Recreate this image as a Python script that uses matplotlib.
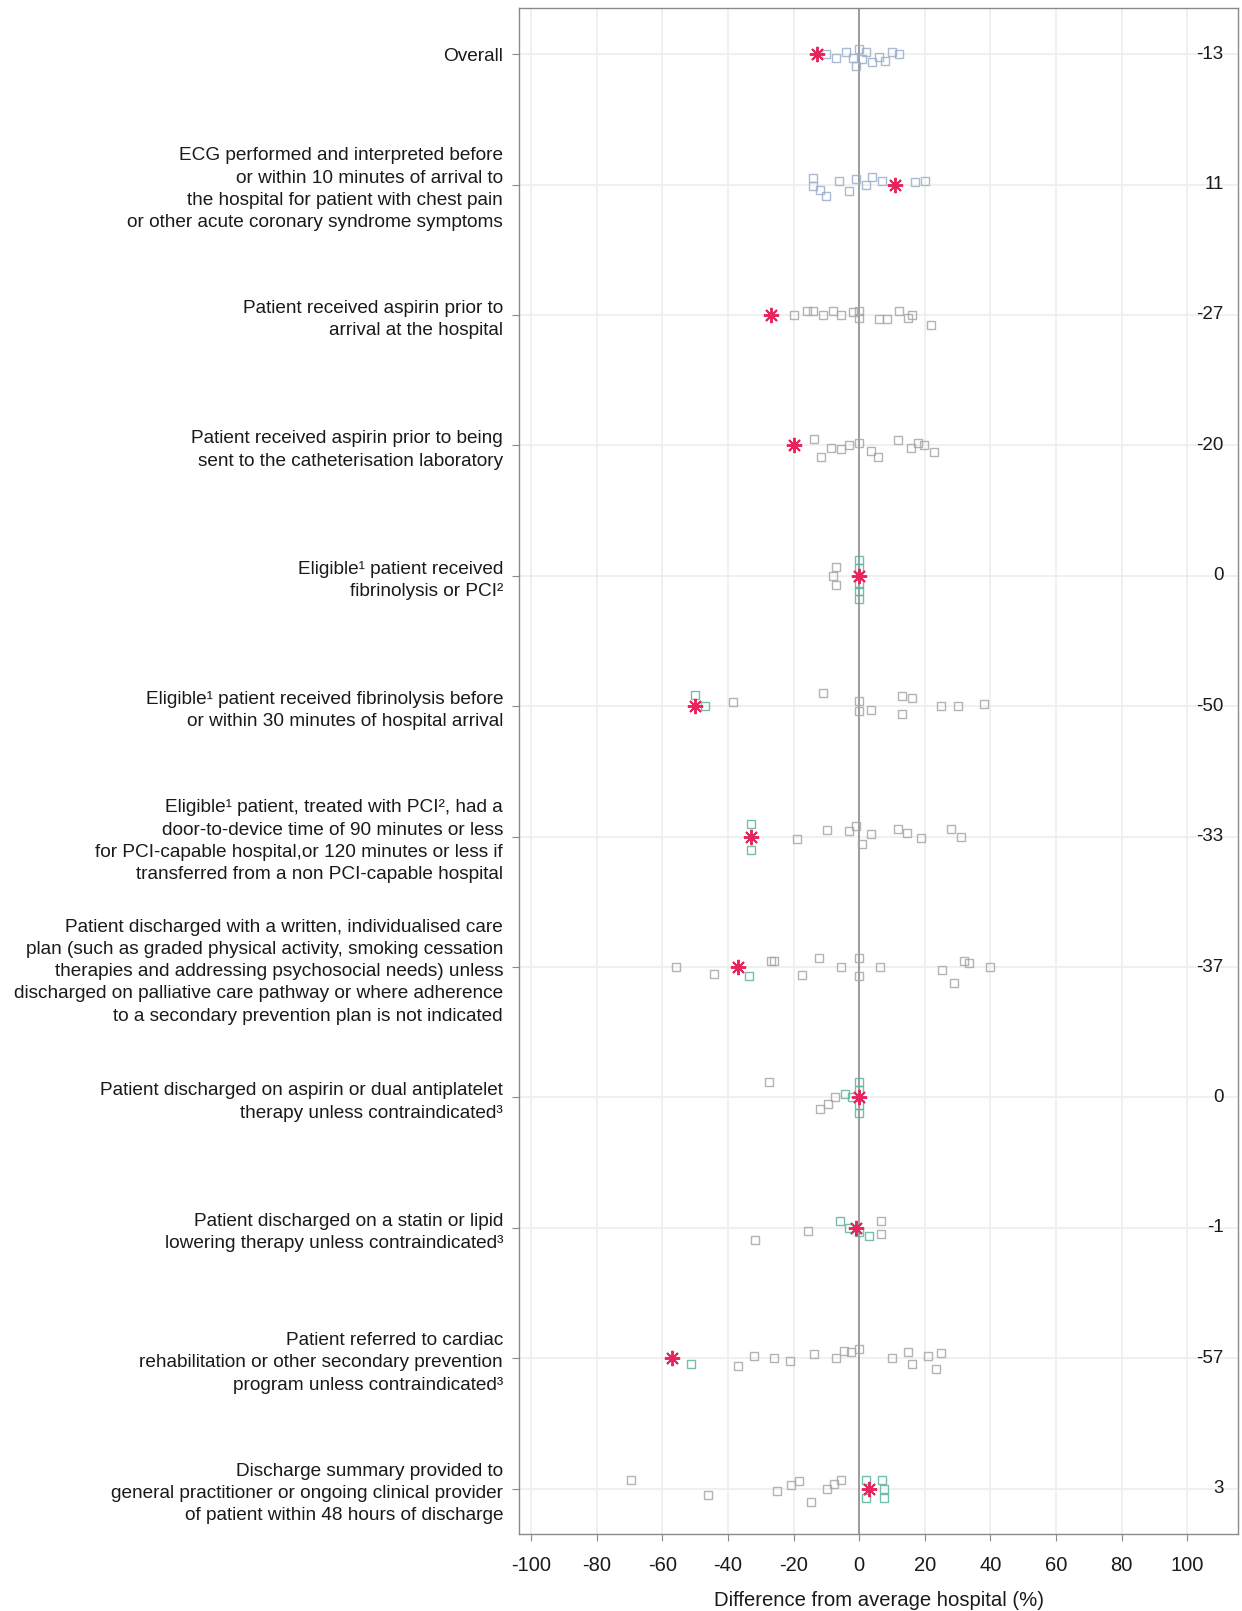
import numpy as np
import matplotlib
matplotlib.use("Agg")
from matplotlib import pyplot as plt

plt.rcParams['font.family'] = ['Liberation Sans', 'DejaVu Sans']

labels = [
    "Overall",
    "ECG performed and interpreted before\nor within 10 minutes of arrival to\nthe hospital for patient with chest pain\nor other acute coronary syndrome symptoms",
    "Patient received aspirin prior to\narrival at the hospital",
    "Patient received aspirin prior to being\nsent to the catheterisation laboratory",
    "Eligible\u00b9 patient received\nfibrinolysis or PCI\u00b2",
    "Eligible\u00b9 patient received fibrinolysis before\nor within 30 minutes of hospital arrival",
    "Eligible\u00b9 patient, treated with PCI\u00b2, had a\ndoor-to-device time of 90 minutes or less\nfor PCI-capable hospital,or 120 minutes or less if\ntransferred from a non PCI-capable hospital",
    "Patient discharged with a written, individualised care\nplan (such as graded physical activity, smoking cessation\ntherapies and addressing psychosocial needs) unless\ndischarged on palliative care pathway or where adherence\nto a secondary prevention plan is not indicated",
    "Patient discharged on aspirin or dual antiplatelet\ntherapy unless contraindicated\u00b3",
    "Patient discharged on a statin or lipid\nlowering therapy unless contraindicated\u00b3",
    "Patient referred to cardiac\nrehabilitation or other secondary prevention\nprogram unless contraindicated\u00b3",
    "Discharge summary provided to\ngeneral practitioner or ongoing clinical provider\nof patient within 48 hours of discharge",
]

# this hospital's difference from the average hospital (%)
hospital = [-13, 11, -27, -20, 0, -50, -33, -37, 0, -1, -57, 3]

# other hospitals, one list per indicator
others = [
    [-10, -7, -4, -2, -1, 0, 1, 2, 4, 6, 8, 10, 12],
    [-14, -14, -12, -10, -6, -3, -1, 2, 4, 7, 17, 20],
    [-20, -16, -14, -11, -8, -5.6, -2, 0, 0, 6, 8.6, 12, 15, 16, 22],
    [-13.7, -11.7, -8.6, -5.6, -3, 0, 3.5, 5.6, 11.7, 15.8, 18, 19.8, 22.9],
    [-8, -7, -7, 0, 0, 0, 0, 0],
    [-50, -47, -38.5, -11, 0, 0, 3.7, 13, 13, 16, 25, 30, 38],
    [-33, -33, -19, -9.7, -3, -1, 1, 3.6, 11.7, 14.7, 18.8, 28, 31],
    [-55.9, -44.2, -33.5, -26.9, -26, -17.3, -12.2, -5.6, 0, 0, 6.5, 25.4, 29, 32, 33.5, 40],
    [-27.4, -11.9, -9.6, -7.4, -4.4, -2.2, 0, 0, 0, 0],
    [-31.9, -15.6, -5.9, -3, 0, 3, 6.7, 6.7],
    [-51.3, -37, -32, -26, -21, -13.7, -7, -4.6, -2.5, 0, 10, 15, 16, 21, 23.4, 25],
    [-69.6, -46, -25, -20.8, -18.3, -14.7, -9.7, -7.6, -5.6, 2, 2, 7, 7.6, 7.6],
]
# vertical spread of the markers within a row (row units)
shift = [
    [0, 0.03, -0.02, 0.03, 0.09, -0.04, 0.04, -0.02, 0.06, 0.02, 0.05, -0.02, 0],
    [-0.05, 0.01, 0.04, 0.09, -0.03, 0.05, -0.04, 0.0, -0.06, -0.03, -0.02, -0.03],
    [0, -0.03, -0.03, 0, -0.03, 0, -0.02, -0.03, 0.02, 0.03, 0.03, -0.03, 0.02, 0.0, 0.08],
    [-0.05, 0.09, 0.02, 0.03, 0, -0.02, 0.04, 0.09, -0.04, 0.02, -0.02, 0.0, 0.05],
    [0.0, -0.07, 0.07, -0.12, -0.06, 0.06, 0.12, 0.18],
    [-0.09, 0.0, -0.03, -0.1, -0.04, 0.04, 0.03, -0.08, 0.06, -0.06, 0.0, 0.0, -0.02],
    [-0.1, 0.1, 0.02, -0.05, -0.04, -0.08, 0.06, -0.02, -0.06, -0.03, 0.01, -0.06, 0.0],
    [0, 0.05, 0.07, -0.05, -0.05, 0.06, -0.07, 0.0, -0.07, 0.07, 0.0, 0.02, 0.12, -0.05, -0.03, 0.0],
    [-0.12, 0.09, 0.05, 0.0, -0.03, 0.0, -0.12, -0.06, 0.06, 0.12],
    [0.09, 0.02, -0.05, 0.0, 0.03, 0.06, -0.05, 0.05],
    [0.04, 0.06, -0.02, 0.0, 0.02, -0.03, 0.0, -0.06, -0.05, -0.07, 0.0, -0.05, 0.04, -0.02, 0.08, -0.04],
    [-0.07, 0.05, 0.02, -0.03, -0.06, 0.1, 0.0, -0.04, -0.07, 0.07, -0.07, -0.07, 0.07, 0.0],
]

xticks = [-100, -80, -60, -40, -20, 0, 20, 40, 60, 80, 100]

fig = plt.figure(figsize=(12.42, 16.11), dpi=100)
ax = fig.add_axes([519 / 1242, 1 - 1534 / 1611, 719 / 1242, 1526 / 1611])

rows = np.arange(len(labels))

for x in xticks:
    if x != 0:
        ax.axvline(x, color="#ededed", lw=1.2, zorder=0)
for r in rows:
    ax.axhline(r, color="#eeeeee", lw=1.2, zorder=0)
ax.axvline(0, color="#808080", lw=1.1, zorder=1)

for r in rows:
    vals = np.array(others[r])
    ys = r + np.array(shift[r])
    for v, y in zip(vals, ys):
        if r < 2:
            c = "#9aaecb"
        elif abs(v - hospital[r]) <= 6:
            c = "#5ab4a0"
        else:
            c = "#a6a6a6"
        ax.plot(v, y, marker="s", ms=5.5, mfc="none", mec=c, mew=1.0,
                alpha=0.85, ls="none", zorder=2)
    ax.plot(hospital[r], r, marker=(8, 2, 0), ms=11, color="#e8245c",
            mew=1.4, ls="none", zorder=3)
    ax.text(0.98, r, "%d" % hospital[r], transform=ax.get_yaxis_transform(),
            ha="right", va="center", fontsize=13.5, color="#1a1a1a")

ax.set_xlim(-103.7, 115.5)
ax.set_ylim(11.347, -0.354)
ax.set_xticks(xticks)
ax.set_xticklabels([str(x) for x in xticks])
ax.set_yticks(rows)
ax.set_yticklabels(labels, linespacing=1.4)
ax.tick_params(axis="y", length=5, width=0.8, color="#8a8a8a", pad=6.5,
               labelsize=13.7, labelcolor="#1a1a1a")
ax.tick_params(axis="x", length=5, width=0.8, color="#8a8a8a", pad=10.5,
               labelsize=14.5, labelcolor="#1a1a1a")
ax.set_xlabel("Difference from average hospital (%)", fontsize=14.6,
              color="#1a1a1a", labelpad=12)

for s in ax.spines.values():
    s.set_color("#8a8a8a")
    s.set_linewidth(1.0)

fig.savefig("out.png", dpi=100)
